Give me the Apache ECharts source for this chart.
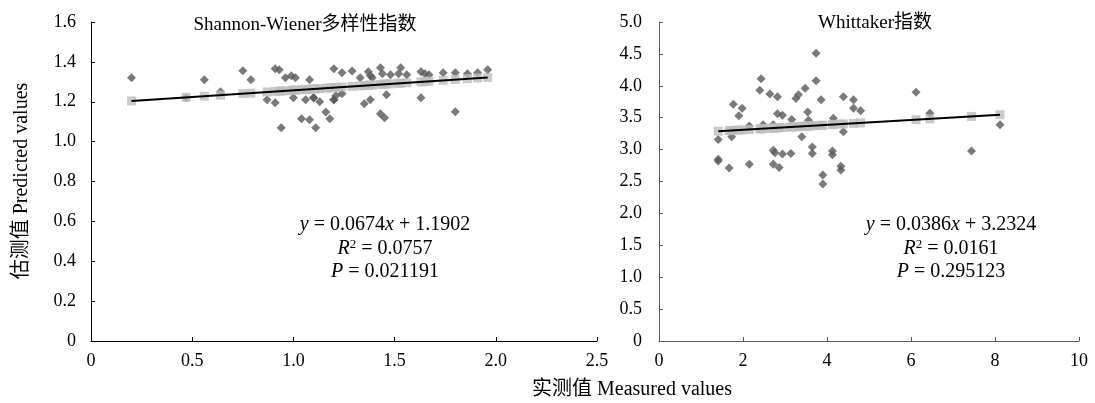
<!DOCTYPE html>
<html><head><meta charset="utf-8">
<script src="https://cdn.jsdelivr.net/npm/echarts@6/dist/echarts.min.js"></script>
<style>html,body{margin:0;padding:0;background:#fff}#c{width:1095px;height:403px}</style>
</head><body><div id="c"></div>
<script>
// ---- Data: Shannon-Wiener (measured x, predicted y) ----
const swX = [0.20,0.47,0.56,0.64,0.75,0.79,0.87,0.91,0.93,0.91,0.96,0.99,1.01,0.94,1.00,1.06,1.08,1.04,1.08,1.10,1.11,1.13,1.16,1.18,1.20,1.20,1.24,1.21,1.29,1.24,1.33,1.37,1.38,1.39,1.35,1.38,1.43,1.44,1.48,1.43,1.45,1.46,1.53,1.52,1.56,1.63,1.65,1.67,1.63,1.74,1.80,1.80,1.86,1.91,1.96,1.10,1.20];
const swY = [1.32,1.22,1.31,1.25,1.355,1.31,1.21,1.365,1.36,1.195,1.32,1.33,1.32,1.07,1.22,1.21,1.31,1.115,1.11,1.22,1.07,1.20,1.148,1.115,1.21,1.365,1.345,1.23,1.354,1.24,1.32,1.35,1.33,1.32,1.19,1.21,1.37,1.34,1.335,1.14,1.12,1.235,1.37,1.34,1.335,1.35,1.34,1.335,1.22,1.345,1.345,1.15,1.34,1.345,1.36,1.22,1.21];
// fitted (trendline) points
const swFitX = [0.20,0.47,0.56,0.64,0.75,0.79,0.87,0.91,0.93,0.94,0.96,0.99,1.00,1.01,1.04,1.06,1.08,1.10,1.11,1.13,1.16,1.18,1.20,1.21,1.24,1.29,1.33,1.35,1.37,1.38,1.39,1.43,1.44,1.45,1.46,1.48,1.52,1.53,1.56,1.63,1.65,1.67,1.74,1.80,1.86,1.91,1.96];
const swFitY = [1.204,1.222,1.228,1.233,1.241,1.243,1.249,1.252,1.253,1.254,1.255,1.257,1.258,1.258,1.260,1.262,1.263,1.264,1.265,1.266,1.268,1.270,1.271,1.272,1.274,1.277,1.280,1.281,1.283,1.283,1.284,1.287,1.287,1.288,1.289,1.290,1.293,1.293,1.295,1.300,1.301,1.303,1.307,1.312,1.316,1.319,1.322];
const swLineX = [0.20,1.96];
const swLineY = [1.204,1.322];

// ---- Data: Whittaker ----
const whX = [3.74,2.43,3.74,2.40,2.64,2.82,3.48,3.32,3.26,3.86,4.39,4.63,4.63,4.80,6.12,6.45,1.77,1.98,1.90,2.82,2.94,3.16,3.54,3.56,4.15,2.15,2.48,2.72,1.41,1.73,3.40,4.39,7.44,8.12,1.41,1.67,2.15,2.72,2.76,2.94,3.14,2.72,2.86,3.65,3.65,4.13,4.13,3.90,3.90,4.33,4.33,1.41];
const whY = [4.51,4.11,4.08,3.93,3.87,3.83,3.96,3.86,3.80,3.78,3.83,3.78,3.65,3.61,3.90,3.57,3.71,3.65,3.53,3.56,3.54,3.47,3.59,3.46,3.49,3.37,3.39,3.39,3.16,3.20,3.20,3.28,2.98,3.39,2.85,2.71,2.77,2.99,2.95,2.93,2.94,2.77,2.72,3.04,2.94,2.98,2.92,2.60,2.46,2.74,2.68,2.82];
const whFitX = [1.41,1.67,1.73,1.77,1.90,1.98,2.15,2.40,2.43,2.48,2.64,2.72,2.76,2.82,2.86,2.94,3.14,3.16,3.26,3.32,3.40,3.48,3.54,3.56,3.65,3.74,3.86,3.90,4.13,4.15,4.33,4.39,4.63,4.80,6.12,6.45,7.44,8.12];
const whFitY = [3.287,3.297,3.299,3.301,3.306,3.309,3.315,3.325,3.326,3.328,3.334,3.337,3.339,3.341,3.343,3.346,3.354,3.354,3.358,3.361,3.364,3.367,3.369,3.370,3.373,3.377,3.381,3.383,3.392,3.393,3.400,3.402,3.411,3.418,3.469,3.481,3.520,3.546];
const whLineX = [1.41,8.12];
const whLineY = [3.287,3.546];

const swXTicks = {min:0,max:2.5,interval:0.5};
const swYTicks = {min:0,max:1.6,interval:0.2};
const whXTicks = {min:0,max:10,interval:2};
const whYTicks = {min:0,max:5,interval:0.5};

const titles = ['Shannon-Wiener多样性指数','Whittaker指数'];
const eqs = [
  ['y = 0.0674x + 1.1902','R2 = 0.0757','P = 0.021191'],
  ['y = 0.0386x + 3.2324','R2 = 0.0161','P = 0.295123']
];
const yName = '估测值 Predicted values';
const xName = '实测值 Measured values';

const FONT = '"Liberation Serif","Noto Sans CJK SC",serif';
const zip = (a,b)=>a.map((v,i)=>[v,b[i]]);
const fmt1 = v => v===0 ? '0' : v.toFixed(1);
const fmt0 = v => String(v);

function xAxis(idx, t, f, col){
  return {gridIndex:idx,type:'value',min:t.min,max:t.max,interval:t.interval,
    axisLine:{show:true,lineStyle:{color:col,width:1}},
    axisTick:{show:true,inside:true,length:4,lineStyle:{color:col}},
    splitLine:{show:false},
    axisLabel:{formatter:f,color:'#000',fontFamily:FONT,fontSize:18,margin:11}};
}
function yAxis(idx, t, f, col, m){
  return {gridIndex:idx,type:'value',min:t.min,max:t.max,interval:t.interval,
    axisLine:{show:true,lineStyle:{color:col,width:1}},
    axisTick:{show:true,inside:true,length:4,lineStyle:{color:col}},
    splitLine:{show:false},
    axisLabel:{formatter:f,color:'#000',fontFamily:FONT,fontSize:18,margin:m}};
}
function scatter(i,x,y){return {type:'scatter',xAxisIndex:i,yAxisIndex:i,data:zip(x,y),symbol:'diamond',symbolSize:9,itemStyle:{color:'#595959'},z:2,silent:true};}
function fit(i,x,y){return {type:'scatter',xAxisIndex:i,yAxisIndex:i,data:zip(x,y),symbol:'rect',symbolSize:9,itemStyle:{color:'#bdbdbd'},z:3,silent:true};}
function line(i,x,y){return {type:'line',xAxisIndex:i,yAxisIndex:i,data:zip(x,y),symbol:'none',lineStyle:{color:'#000',width:2},z:4,silent:true};}

const chart = echarts.init(document.getElementById('c'),null,{renderer:'canvas'});
const option = {
  backgroundColor:'#fff',
  animation:false,
  title:[
    {text:titles[0],left:300,top:11,textAlign:'center',textStyle:{fontFamily:FONT,fontSize:19,fontWeight:'normal',color:'#000'}},
    {text:titles[1],left:870,top:9,textAlign:'center',textStyle:{fontFamily:FONT,fontSize:19,fontWeight:'normal',color:'#000'}}
  ],
  grid:[
    {left:91,top:22,width:506,height:319,containLabel:false},
    {left:659,top:22,width:420,height:319,containLabel:false}
  ],
  xAxis:[xAxis(0,swXTicks,fmt1,'#000'),xAxis(1,whXTicks,fmt0,'#595959')],
  yAxis:[yAxis(0,swYTicks,fmt1,'#000',15),yAxis(1,whYTicks,fmt1,'#595959',17)],
  series:[
    scatter(0,swX,swY),fit(0,swFitX,swFitY),line(0,swLineX,swLineY),
    scatter(1,whX,whY),fit(1,whFitX,whFitY),line(1,whLineX,whLineY)
  ],
  graphic:[
    {type:'text',x:22,y:181,rotation:Math.PI/2,style:{text:yName,font:'20px '+FONT,fill:'#000',textAlign:'center',textVerticalAlign:'middle'}},
    {type:'text',x:632,y:390,style:{text:xName,font:'20px '+FONT,fill:'#000',textAlign:'center',textVerticalAlign:'middle'}}
  ]
};
function mkEq(lines,cx,y0){
  const res=[];
  const p1 = lines[0].match(/^y( = [\d.]+)x( \+ [\d.]+)$/);
  const rich = {i:{fontStyle:'italic',fontFamily:FONT,fontSize:20,fill:'#000'},
                n:{fontFamily:FONT,fontSize:20,fill:'#000'},
                s:{fontFamily:FONT,fontSize:13,fill:'#000',padding:[0,0,8,0]}};
  res.push({type:'text',x:cx,y:y0,style:{text:'{i|y}{n|'+p1[1]+'}{i|x}{n|'+p1[2]+'}',rich:rich,align:'center',verticalAlign:'middle'}});
  res.push({type:'text',x:cx,y:y0+23.5,style:{text:'{i|R}{s|2}{n|'+lines[1].slice(2)+'}',rich:rich,align:'center',verticalAlign:'middle'}});
  res.push({type:'text',x:cx,y:y0+47,style:{text:'{i|P}{n|'+lines[2].slice(1)+'}',rich:rich,align:'center',verticalAlign:'middle'}});
  return res;
}
option.graphic = option.graphic.concat(mkEq(eqs[0],385,225), mkEq(eqs[1],951,225));
chart.setOption(option);
</script>
</body></html>
